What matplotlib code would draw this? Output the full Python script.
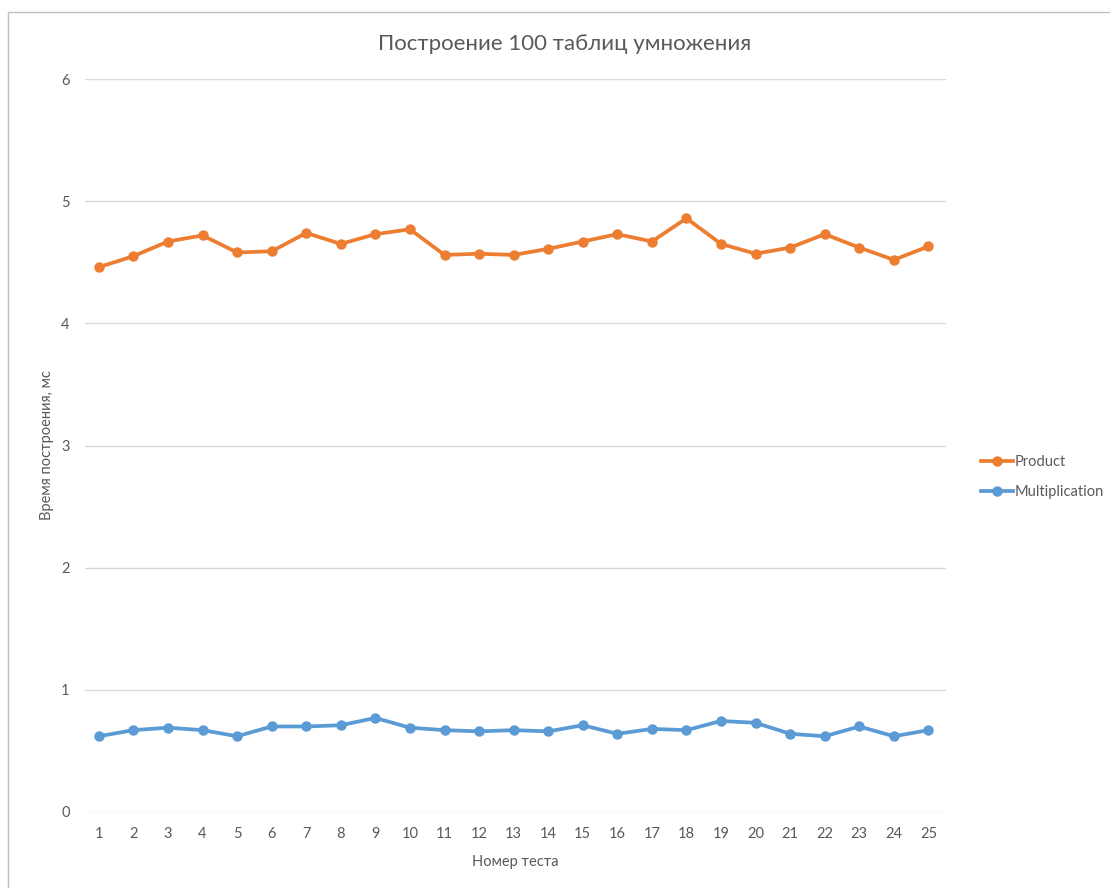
import matplotlib.pyplot as plt
from matplotlib.patches import Rectangle

# Время построения 100 таблиц умножения (мс) по номерам тестов
tests = list(range(1, 26))
product = [4.46, 4.55, 4.67, 4.72, 4.58, 4.59, 4.74, 4.65, 4.73, 4.77,
           4.56, 4.57, 4.56, 4.61, 4.67, 4.73, 4.67, 4.86, 4.65, 4.57,
           4.62, 4.73, 4.62, 4.52, 4.63]
multiplication = [0.62, 0.67, 0.69, 0.67, 0.62, 0.70, 0.70, 0.71, 0.77, 0.69,
                  0.67, 0.66, 0.67, 0.66, 0.71, 0.64, 0.68, 0.67, 0.745, 0.73,
                  0.64, 0.62, 0.70, 0.62, 0.67]
y_ticks = [0, 1, 2, 3, 4, 5, 6]

ORANGE = '#ED7D31'
BLUE = '#5B9BD5'
TEXT = '#595959'
GRID = '#D9D9D9'

plt.rcParams['font.family'] = ['Lato', 'DejaVu Sans']

fig = plt.figure(figsize=(11.1, 8.88), dpi=100)
fig.patch.set_facecolor('white')

# рамка области диаграммы
fig.patches.append(Rectangle((8 / 1110, -0.1), 1.2, 1 - 12 / 888 + 0.1,
                             transform=fig.transFigure, fill=False,
                             edgecolor='#BFBFBF', linewidth=1.0))

ax = fig.add_axes([0.0766, 0.0856, 0.852 - 0.0766, 0.911 - 0.0856])

ax.plot(tests, product, color=ORANGE, linewidth=2.7, marker='o',
        markersize=6.5, label='Product')
ax.plot(tests, multiplication, color=BLUE, linewidth=2.7, marker='o',
        markersize=6.5, label='Multiplication')

ax.set_xlim(0.6, 25.5)
ax.set_ylim(0, 6)
ax.set_xticks(tests)
ax.set_yticks(y_ticks)
ax.yaxis.grid(True, color=GRID, linewidth=1)
ax.set_axisbelow(True)
for side in ('top', 'right', 'left', 'bottom'):
    ax.spines[side].set_visible(False)
ax.tick_params(length=0, colors=TEXT, labelsize=10.5)
ax.tick_params(axis='y', pad=11)
ax.tick_params(axis='x', pad=11)

ax.set_xlabel('Номер теста', color=TEXT, fontsize=10.5, labelpad=10)
ax.set_ylabel('Время построения, мс', color=TEXT, fontsize=10.5, labelpad=5)

fig.text(0.509, 0.951, 'Построение 100 таблиц умножения', ha='center',
         va='center', color=TEXT, fontsize=16)

leg = ax.legend(loc='center left', bbox_to_anchor=(0.872, 0.463),
                bbox_transform=fig.transFigure, frameon=False, fontsize=10.5,
                handlelength=2.2, handletextpad=0.1, labelspacing=1.1)
for t in leg.get_texts():
    t.set_color(TEXT)

fig.savefig('out.png', dpi=100)
